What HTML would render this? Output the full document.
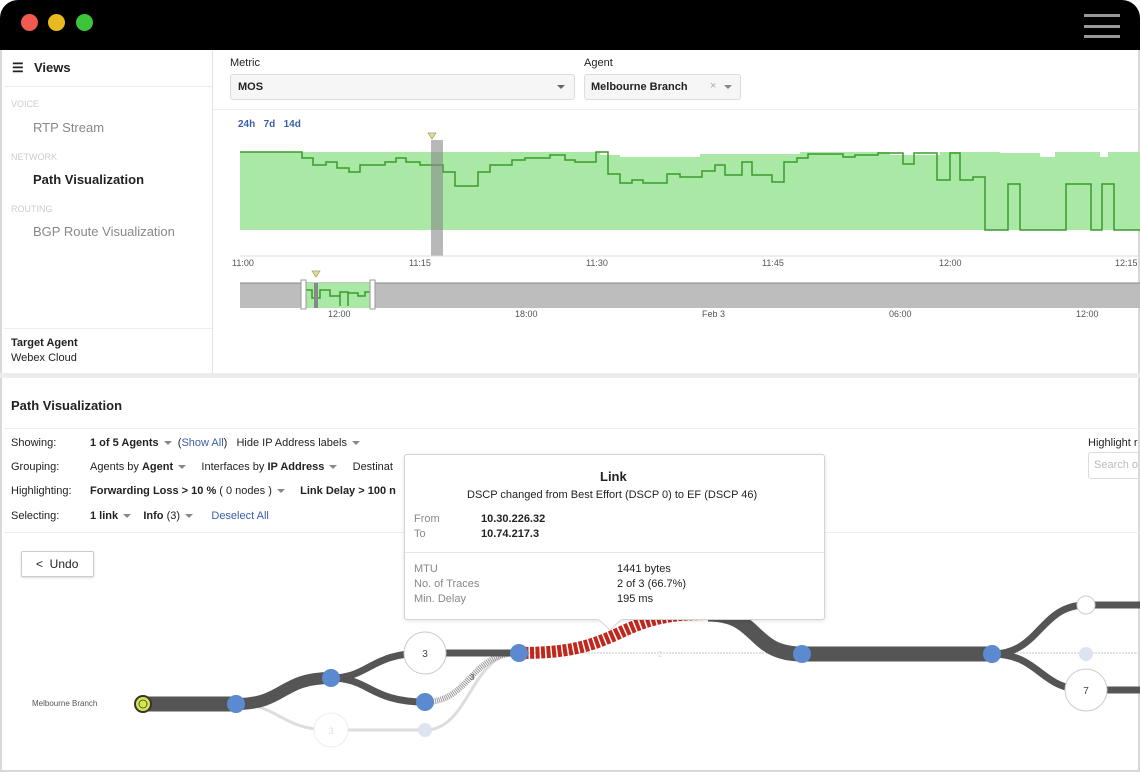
<!DOCTYPE html>
<html><head><meta charset="utf-8"><style>
*{margin:0;padding:0;box-sizing:border-box}
body{width:1140px;height:772px;position:relative;overflow:hidden;background:#fff;font-family:"Liberation Sans",sans-serif;color:#222}
.a{position:absolute;white-space:nowrap}
.s11{font-size:11px}.s12{font-size:12px}
.b{font-weight:bold}
.g{color:#888}
.lk{color:#3a5fa8}
.car{display:inline-block;width:0;height:0;border-left:4px solid transparent;border-right:4px solid transparent;border-top:4px solid #888;vertical-align:middle;margin-left:5px}
</style></head><body>
<div class="a" style="left:0;top:0;width:1140px;height:772px;border:2px solid #d8d8d8;border-top:none;border-radius:18px 18px 0 0"></div>
<div class="a" style="left:0;top:0;width:1140px;height:50px;background:#000;border-radius:18px 18px 0 0"></div>
<div class="a" style="left:21px;top:14px;width:17px;height:17px;border-radius:50%;background:#f05a50"></div>
<div class="a" style="left:48px;top:14px;width:17px;height:17px;border-radius:50%;background:#e9b920"></div>
<div class="a" style="left:76px;top:14px;width:17px;height:17px;border-radius:50%;background:#3cc43c"></div>
<div class="a" style="left:1084px;top:14px;width:36px;height:3px;background:#999"></div>
<div class="a" style="left:1084px;top:25px;width:36px;height:3px;background:#999"></div>
<div class="a" style="left:1084px;top:35px;width:36px;height:3px;background:#999"></div>

<!-- sidebar -->
<div class="a" style="left:212px;top:50px;width:1px;height:324px;background:#e2e2e2"></div>
<div class="a" style="left:4px;top:86px;width:208px;height:1px;background:#eee"></div>
<div class="a" style="left:4px;top:328px;width:208px;height:1px;background:#eee"></div>
<div class="a b" style="left:12px;top:60px;font-size:13px">&#9776;</div>
<div class="a b" style="left:34px;top:60px;font-size:13px">Views</div>
<div class="a" style="left:11px;top:99px;font-size:9px;color:#ccc">VOICE</div>
<div class="a" style="left:33px;top:120px;font-size:13px;color:#888">RTP Stream</div>
<div class="a" style="left:11px;top:152px;font-size:9px;color:#ccc">NETWORK</div>
<div class="a b" style="left:33px;top:172px;font-size:13px">Path Visualization</div>
<div class="a" style="left:11px;top:204px;font-size:9px;color:#ccc">ROUTING</div>
<div class="a" style="left:33px;top:224px;font-size:13px;color:#888">BGP Route Visualization</div>
<div class="a b s11" style="left:11px;top:337px">Target Agent</div>
<div class="a s11" style="left:11px;top:352px">Webex Cloud</div>

<!-- top controls -->
<div class="a s11" style="left:230px;top:57px">Metric</div>
<div class="a" style="left:230px;top:74px;width:345px;height:26px;border:1px solid #ddd;border-radius:3px;background:#f6f6f6"></div>
<div class="a b s11" style="left:238px;top:81px">MOS</div>
<div class="a" style="left:557px;top:85px;border-left:4px solid transparent;border-right:4px solid transparent;border-top:4px solid #666"></div>
<div class="a s11" style="left:584px;top:57px">Agent</div>
<div class="a" style="left:584px;top:74px;width:157px;height:26px;border:1px solid #ddd;border-radius:3px;background:#f6f6f6"></div>
<div class="a b s11" style="left:591px;top:81px">Melbourne Branch</div>
<div class="a s11" style="left:710px;top:80px;color:#aaa">×</div>
<div class="a" style="left:724px;top:85px;border-left:4px solid transparent;border-right:4px solid transparent;border-top:4px solid #888"></div>
<div class="a" style="left:213px;top:109px;width:927px;height:1px;background:#eee"></div>
<div class="a b lk" style="left:238px;top:119px;font-size:10px">24h&nbsp;&nbsp;&nbsp;7d&nbsp;&nbsp;&nbsp;14d</div>

<svg class="a" style="left:0;top:0" width="1140" height="772">
<path d="M240,152 H600 V155 H620 V157 H700 V154 H800 V152 H890 V155 H940 V152 H1000 V153 H1040 V157 H1055 V152 H1100 V157 H1108 V152 H1140 V230 H240Z" fill="#a9e8a5"/>
<path fill="none" stroke="#3b9a2c" stroke-width="1.5" d="M240,152 H302 V158 H313 V165 H326 V162 H337 V168 H349 V172 H360 V165 H385 V162 H396 V158 H406 V162 H420 V165 H443 V172 H455 V186 H478 V172 H490 V165 H512 V160 H525 V158 H550 V155 H565 V160 H575 V162 H596 V152 H608 V174 H620 V183 H632 V180 H643 V183 H667 V174 H680 V177 H702 V171 H715 V165 H725 V175 H742 V162 H752 V175 H772 V182 H784 V162 H797 V158 H808 V154 H843 V157 H855 V155 H878 V153 H903 V164 H914 V153 H937 V180 H950 V153 H960 V180 H973 V177 H985 V230 H1008 V184 H1020 V230 H1066 V184 H1091 V230 H1102 V184 H1114 V230 H1140"/>
<rect x="431" y="140" width="12" height="116" fill="#888" opacity="0.6"/>
<path d="M428,133 L436,133 L432,139Z" fill="#e8e080" stroke="#998" stroke-width="0.7"/>
<line x1="240" y1="256" x2="1140" y2="256" stroke="#ddd"/>
<g font-size="9" fill="#555" font-family="Liberation Sans">
<text x="232" y="266">11:00</text><text x="409" y="266">11:15</text><text x="586" y="266">11:30</text><text x="762" y="266">11:45</text><text x="939" y="266">12:00</text><text x="1115" y="266">12:15</text>
<text x="328" y="317">12:00</text><text x="515" y="317">18:00</text><text x="702" y="317">Feb 3</text><text x="889" y="317">06:00</text><text x="1076" y="317">12:00</text>
</g>
<rect x="240" y="283" width="900" height="25" fill="#bdbdbd"/>
<line x1="240" y1="283" x2="1140" y2="283" stroke="#888"/>
<rect x="305" y="283" width="67" height="25" fill="#a9e8a5"/>
<path d="M305,290 H312 V298 H320 V290 H330 V296 H340 V306 V292 H348 V306 V293 H358 V296 H365 V292 H372" fill="none" stroke="#3b9a2c" stroke-width="1.5"/>
<rect x="314" y="283" width="4" height="25" fill="#888"/>
<path d="M312,271 L320,271 L316,277Z" fill="#e8e080" stroke="#998" stroke-width="0.7"/>
<rect x="301" y="280" width="5" height="29" fill="#fff" stroke="#999"/>
<rect x="370" y="280" width="5" height="29" fill="#fff" stroke="#999"/>
</svg>

<div class="a" style="left:0;top:373px;width:1140px;height:5px;background:#ececec"></div>

<!-- path vis section -->
<div class="a b" style="left:11px;top:398px;font-size:13px">Path Visualization</div>
<div class="a" style="left:4px;top:428px;width:1136px;height:1px;background:#eee"></div>
<div class="a s11" style="left:11px;top:437px">Showing:</div>
<div class="a s11" style="left:90px;top:437px"><b>1 of 5 Agents</b><span class="car"></span>&nbsp;&nbsp;(<span class="lk">Show All</span>)&nbsp;&nbsp;&nbsp;Hide IP Address labels<span class="car"></span></div>
<div class="a s11" style="left:11px;top:461px">Grouping:</div>
<div class="a s11" style="left:90px;top:461px">Agents by <b>Agent</b><span class="car"></span>&nbsp;&nbsp;&nbsp;&nbsp;&nbsp;Interfaces by <b>IP Address</b><span class="car"></span>&nbsp;&nbsp;&nbsp;&nbsp;&nbsp;Destinat</div>
<div class="a s11" style="left:11px;top:485px">Highlighting:</div>
<div class="a s11" style="left:90px;top:485px"><b>Forwarding Loss &gt; 10 %</b> ( 0 nodes )<span class="car"></span>&nbsp;&nbsp;&nbsp;&nbsp;&nbsp;<b>Link Delay &gt; 100 n</b></div>
<div class="a s11" style="left:11px;top:510px">Selecting:</div>
<div class="a s11" style="left:90px;top:510px"><b>1 link</b><span class="car"></span>&nbsp;&nbsp;&nbsp;&nbsp;<b>Info</b> (3)<span class="car"></span>&nbsp;&nbsp;&nbsp;&nbsp;&nbsp;&nbsp;<span class="lk">Deselect All</span></div>
<div class="a s11" style="left:1088px;top:437px">Highlight r</div>
<div class="a" style="left:1088px;top:452px;width:60px;height:27px;border:1px solid #ddd;border-radius:3px"></div>
<div class="a s11" style="left:1094px;top:459px;color:#bbb">Search o</div>
<div class="a" style="left:4px;top:532px;width:1136px;height:1px;background:#eee"></div>
<div class="a" style="left:21px;top:551px;width:73px;height:26px;border:1px solid #ccc;border-radius:2px;box-shadow:0 1px 2px rgba(0,0,0,.15)"></div>
<div class="a s12" style="left:36px;top:557px">&lt;&nbsp;&nbsp;Undo</div>
<div class="a" style="left:32px;top:699px;font-size:8px;color:#555">Melbourne Branch</div>

<svg class="a" style="left:0;top:0" width="1140" height="772">
<g fill="none" stroke-linecap="butt">
<path d="M236,704 C280,704 280,730 331,730 H425 C470,730 470,653 519,653" stroke="#ddd" stroke-width="3"/>
<path d="M519,653 H1140" stroke="#e2e2e2" stroke-width="2" stroke-dasharray="2,1"/>
<path d="M425,702 C470,702 470,653 519,653" stroke="#999" stroke-width="6" stroke-dasharray="1,1"/>
<path d="M143,704 H236" stroke="#555" stroke-width="15"/>
<path d="M236,704 C285,704 280,678 331,678" stroke="#555" stroke-width="12"/>
<path d="M331,678 C370,678 370,653 425,653 H519" stroke="#555" stroke-width="7"/>
<path d="M331,678 C370,678 370,702 425,702" stroke="#555" stroke-width="7"/>
<path d="M519,653 C570,653 590,646 615,635 C650,618 670,614 708,614" stroke="#c0281e" stroke-width="12" stroke-dasharray="4,1.5"/>
<path d="M708,614 C760,614 750,654 802,654 H992" stroke="#555" stroke-width="15"/>
<path d="M992,654 C1040,654 1040,605 1086,605 H1140" stroke="#555" stroke-width="7"/>
<path d="M992,654 C1040,654 1040,690 1086,690 H1140" stroke="#555" stroke-width="7"/>
</g>
<circle cx="331" cy="730" r="17" fill="#fff" stroke="#eee"/>
<text x="331" y="734" font-size="9" fill="#ddd" text-anchor="middle">3</text>
<circle cx="425" cy="730" r="7" fill="#dde4f0"/>
<circle cx="1086" cy="654" r="7" fill="#dde4f0"/>
<circle cx="143" cy="704" r="8" fill="#d8e84a" stroke="#333" stroke-width="2"/>
<circle cx="143" cy="704" r="4" fill="none" stroke="#556"/>
<g fill="#5b8ad0"><circle cx="236" cy="704" r="9"/><circle cx="331" cy="678" r="9"/><circle cx="425" cy="702" r="9"/><circle cx="519" cy="653" r="9"/><circle cx="802" cy="654" r="9"/><circle cx="992" cy="654" r="9"/></g>
<circle cx="425" cy="653" r="21" fill="#fff" stroke="#ccc"/>
<text x="425" y="657" font-size="10" fill="#444" text-anchor="middle" font-family="Liberation Sans">3</text>
<circle cx="1086" cy="605" r="9" fill="#fff" stroke="#ccc"/>
<circle cx="1086" cy="690" r="21" fill="#fff" stroke="#ccc"/>
<text x="1086" y="694" font-size="10" fill="#444" text-anchor="middle" font-family="Liberation Sans">7</text>
<text x="470" y="680" font-size="8" fill="#555" font-family="Liberation Sans">3</text>
<text x="658" y="657" font-size="8" fill="#ddd" font-family="Liberation Sans">2</text>
</svg>

<!-- tooltip -->
<div class="a" style="left:404px;top:454px;width:421px;height:166px;background:#fff;border:1px solid #d4d4d4;border-radius:3px;box-shadow:0 1px 4px rgba(0,0,0,.12)"></div>
<svg class="a" style="left:598px;top:618px" width="24" height="14"><path d="M0,1 L12,12 L24,1" fill="#fff" stroke="#d4d4d4"/><rect x="0" y="0" width="24" height="1.5" fill="#fff"/></svg>
<div class="a" style="left:405px;top:552px;width:419px;height:1px;background:#e6e6e6"></div>
<div class="a b" style="left:600px;top:469px;font-size:13px">Link</div>
<div class="a s11" style="left:467px;top:489px">DSCP changed from Best Effort (DSCP 0) to EF (DSCP 46)</div>
<div class="a s11 g" style="left:414px;top:513px">From</div>
<div class="a s11 b" style="left:481px;top:513px">10.30.226.32</div>
<div class="a s11 g" style="left:414px;top:528px">To</div>
<div class="a s11 b" style="left:481px;top:528px">10.74.217.3</div>
<div class="a s11 g" style="left:414px;top:562px;line-height:15px">MTU<br>No. of Traces<br>Min. Delay</div>
<div class="a s11" style="left:617px;top:562px;line-height:15px">1441 bytes<br>2 of 3 (66.7%)<br>195 ms</div>
</body></html>
